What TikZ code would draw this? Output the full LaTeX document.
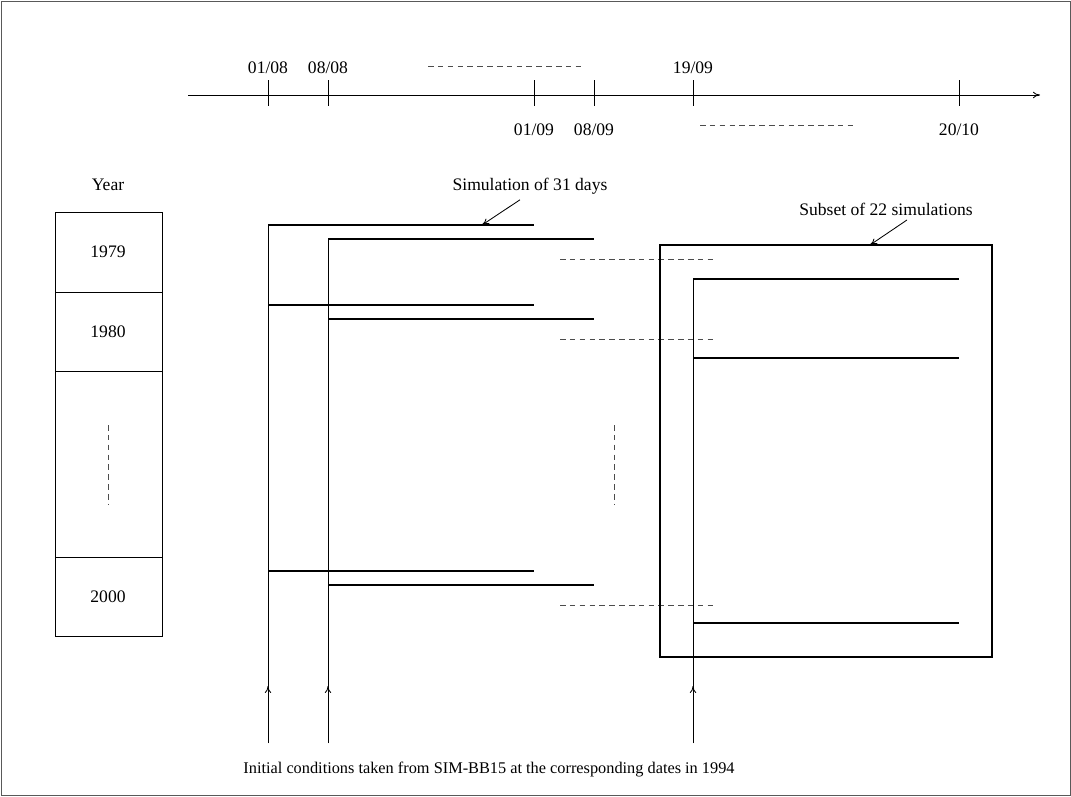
\documentclass[tikz,border=0pt]{standalone}
\usepackage{fontspec}
\setmainfont{Liberation Serif}
\usetikzlibrary{arrows.meta}

\begin{document}
\begin{tikzpicture}[
		x=0.025cm, y=-0.025cm,
		>={To[length=5pt,width=4.5pt]},
		% Styles for the simulation bars
		simbar/.style={line width=1.5pt},
		% Style for the gaps between the dates
		gapline/.style={gray!60!black, line width=0.6pt, dash pattern=on 4pt off 3pt},
		% Style for the texts
		txt/.style={font=\fontsize{12.5}{14}\selectfont, inner sep=1pt},
		thin/.style={line width=0.6pt}
		]
		
		\useasboundingbox (0,0) rectangle (1071,796);
		\draw[gray!70!black, line width=0.7pt] (1,1) rectangle (1070,795);
		
		% ==========================================
		% 1. THE TIME AXIS
		% ==========================================
		\coordinate (t0) at (188,95);
		\coordinate (t1) at (1040,95);
		\draw[->, thin] (t0) -- (t1);
		\foreach \x/\name in {268/a, 328/b, 534/c, 594/d, 693/e, 959/f} {
			\coordinate (tick\name) at (\x,95);
			\draw[thin] (\x,80) -- (\x,106);
		}
		\node[txt] (d0108) at (268,68) {01/08};
		\node[txt] (d0808) at (328,68) {08/08};
		\node[txt] (d1909) at (693,68) {19/09};
		\node[txt] (d0109) at (534,130) {01/09};
		\node[txt] (d0809) at (594,130) {08/09};
		\node[txt] (d2010) at (959,130) {20/10};
		\draw[gapline] (428,66) -- (582,66);
		\draw[gapline] (700,125) -- (855,125);
		
		% ==========================================
		% 2. THE LEFT: Years
		% ==========================================
		\node[txt] (year) at (108,185) {Year};
		\draw[thin] (55,212) rectangle (162,636);
		\draw[thin] (55,292) -- (162,292);
		\draw[thin] (55,371) -- (162,371);
		\draw[thin] (55,557) -- (162,557);
		\node[txt] (y1979) at (108,252) {1979};
		\node[txt] (y1980) at (108,332) {1980};
		\node[txt] (y2000) at (108,597) {2000};
		\draw[gapline] (108,425) -- (108,505);
		
		% ==========================================
		% 3. THE CENTER: 31-day simulations
		% ==========================================
		\foreach \y in {225, 305, 571} {
			\draw[simbar] (268,\y) -- (534,\y);
			\draw[simbar] (328,\y+14) -- (594,\y+14);
			\draw[gapline] (560,\y+34) -- (715,\y+34);
		}
		\draw[gapline] (614,425) -- (614,505);
		
		% Initial condition lines
		\coordinate (ic1) at (268,743);
		\coordinate (ic2) at (328,743);
		\coordinate (ic3) at (693,743);
		\draw[thin] (ic1) -- (268,225);
		\draw[thin] (ic2) -- (328,239);
		\draw[thin] (ic3) -- (693,279);
		\draw[->, thin] (ic1) -- (268,686);
		\draw[->, thin] (ic2) -- (328,686);
		\draw[->, thin] (ic3) -- (693,686);
		
		\node[txt] (simlbl) at (530,186) {Simulation of 31 days};
		\coordinate (simbar1) at (482,225);
		\draw[->, thin] (simlbl.south) ++(-10,4) -- (simbar1);
		
		% ==========================================
		% 4. THE RIGHT: Subset of 22 simulations
		% ==========================================
		\draw[line width=1.5pt] (660,245) rectangle (992,657);
		\coordinate (subtop) at (870,245);
		\foreach \y in {279, 358, 623} {
			\draw[simbar] (693,\y) -- (959,\y);
		}
		\node[txt] (sublbl) at (886,209) {Subset of 22 simulations};
		\draw[->, thin] (sublbl.south) ++(21,3) -- (subtop);
		
		% ==========================================
		% 5. THE BOTTOM: caption
		% ==========================================
		\node[txt, font=\fontsize{11.6}{14}\selectfont] (initial) at (489,770) {Initial conditions taken from SIM-BB15 at the corresponding dates in 1994};
		
	\end{tikzpicture}
\end{document}
